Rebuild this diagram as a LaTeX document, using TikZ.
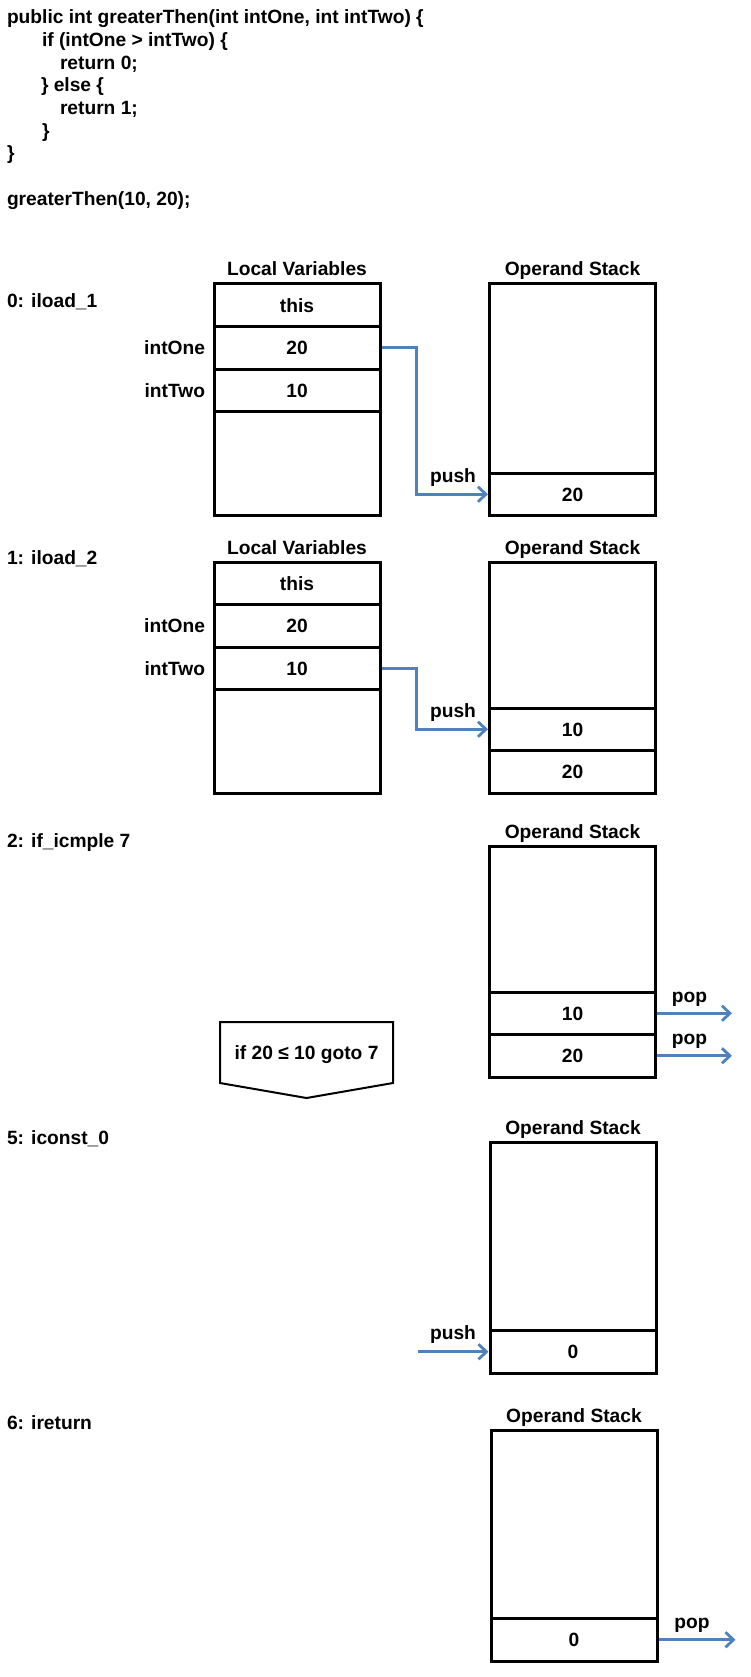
\documentclass[tikz,border=0pt]{standalone}
\usepackage{fontspec}
\setmainfont{Liberation Sans}
\usepackage{tikz}
\usetikzlibrary{positioning,arrows.meta}

\definecolor{pushblue}{RGB}{79,129,189}

\tikzset{
  every node/.style={font=\fontsize{19.2}{22.7}\selectfont\bfseries,
    text height=13.7pt, text depth=0pt, inner sep=0pt, outer sep=0pt},
  cell/.style={draw, line width=3pt, minimum width=166pt, minimum height=42.5pt},
  move/.style={draw=pushblue, line width=2.8pt, -{Straight Barb[length=8pt,width=15pt]},
    shorten <=1.5pt, shorten >=1.5pt},
}

\begin{document}
\begin{tikzpicture}[x=1pt, y=-1pt]
    \useasboundingbox (0,0) rectangle (750,1677);

    % the java source
    \node[anchor=west] (code1) at (7,17)     {public int greaterThen(int intOne, int intTwo) \{};
    \node[anchor=west] (code2) at (42,39.7)  {if (intOne > intTwo) \{};
    \node[anchor=west] (code3) at (60,62.3)  {return 0;};
    \node[anchor=west] (code4) at (41,85)    {\} else \{};
    \node[anchor=west] (code5) at (60,107.7) {return 1;};
    \node[anchor=west] (code6) at (42,130.3) {\}};
    \node[anchor=west] (code7) at (7,153)    {\}};
    \node[anchor=west] (call) at (7,198.3)   {greaterThen(10, 20);};

    % 0: iload_1
    \node[anchor=west] (step0) at (7,301) {0: iload\_1};
    \node[cell] (lv0a) at (297,305.25) {this};
    \node[cell] (lv0b) [below=0pt of lv0a] {20};
    \node[cell] (lv0c) [below=0pt of lv0b] {10};
    \node[cell, minimum height=103.5pt] (lv0d) [below=0pt of lv0c] {};
    \node (lv0) [above=8pt of lv0a] {Local Variables};
    \node (one0) [left=9pt of lv0b] {intOne};
    \node (two0) [left=9pt of lv0c] {intTwo};

    \node[cell, minimum height=189pt] (os0e) at (572.5,378.5) {};
    \node[cell] (os0a) [below=0pt of os0e] {20};
    \node (os0) [above=8pt of os0e] {Operand Stack};
    \coordinate[left=73pt of os0a] (push0);

    \draw[move] (lv0b.east) -| (push0) -- node[above=12pt] (push0lbl) {push} (os0a.west);

    % 1: iload_2
    \node[anchor=west] (step1) at (7,558) {1: iload\_2};
    \node[cell] (lv1a) at (297,583.25) {this};
    \node[cell] (lv1b) [below=0pt of lv1a] {20};
    \node[cell] (lv1c) [below=0pt of lv1b] {10};
    \node[cell, minimum height=103.5pt] (lv1d) [below=0pt of lv1c] {};
    \node (lv1) [above=8pt of lv1a] {Local Variables};
    \node (one1) [left=9pt of lv1b] {intOne};
    \node (two1) [left=9pt of lv1c] {intTwo};

    \node[cell, minimum height=146pt] (os1e) at (572.5,635) {};
    \node[cell] (os1a) [below=0pt of os1e] {10};
    \node[cell] (os1b) [below=0pt of os1a] {20};
    \node (os1) [above=8pt of os1e] {Operand Stack};
    \coordinate[left=73pt of os1a] (push1);

    \draw[move] (lv1c.east) -| (push1) -- node[above=12pt] (push1lbl) {push} (os1a.west);

    % 2: if_icmple 7
    \node[anchor=west] (step2) at (7,841) {2: if\_icmple 7};
    \node[cell, minimum height=146pt] (os2e) at (572.5,919) {};
    \node[cell] (os2a) [below=0pt of os2e] {10};
    \node[cell] (os2b) [below=0pt of os2a] {20};
    \node (os2) [above=8pt of os2e] {Operand Stack};
    \coordinate[right=78pt of os2a] (pop2a);
    \coordinate[right=78pt of os2b] (pop2b);

    \draw[move] (os2a.east) -- node[above=11pt, xshift=-5pt] (pop2albl) {pop} (pop2a);
    \draw[move] (os2b.east) -- node[above=11pt, xshift=-5pt] (pop2blbl) {pop} (pop2b);

    \node[minimum width=173pt, minimum height=61pt] (cond) at (306.5,1052.5) {if 20 ≤ 10 goto 7};
    \draw[line width=2pt] (cond.north west) -- (cond.north east) -- (cond.south east)
        -- ([yshift=-15pt]cond.south) -- (cond.south west) -- cycle;

    % 5: iconst_0
    \node[anchor=west] (step5) at (7,1138) {5: iconst\_0};
    \node[cell, minimum height=188.5pt] (os5e) at (573,1236.25) {};
    \node[cell] (os5a) [below=0pt of os5e] {0};
    \node (os5) [above=8pt of os5e] {Operand Stack};
    \coordinate[left=74pt of os5a] (push5);

    \draw[move] (push5) -- node[above=12pt] (push5lbl) {push} (os5a.west);

    % 6: ireturn
    \node[anchor=west] (step6) at (7,1423) {6: ireturn};
    \node[cell, minimum height=188.5pt] (os6e) at (574,1524.25) {};
    \node[cell] (os6a) [below=0pt of os6e] {0};
    \node (os6) [above=8pt of os6e] {Operand Stack};
    \coordinate[right=80pt of os6a] (pop6);

    \draw[move] (os6a.east) -- node[above=11pt, xshift=-5pt] (pop6lbl) {pop} (pop6);

\end{tikzpicture}
\end{document}
